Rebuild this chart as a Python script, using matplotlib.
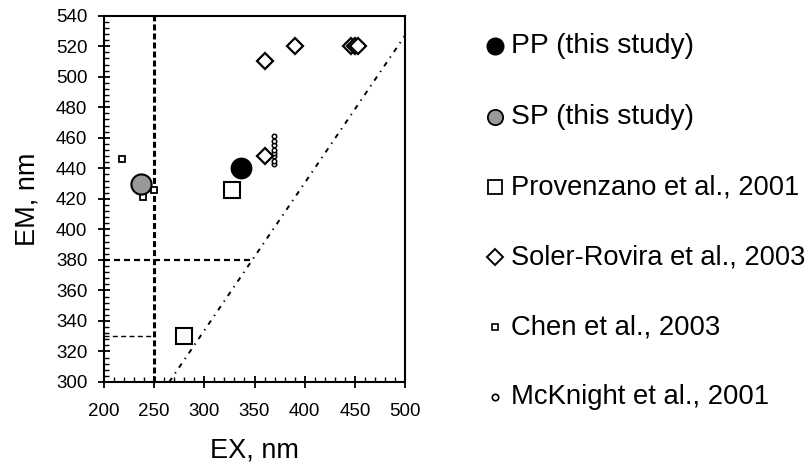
import matplotlib
matplotlib.use("Agg")
import matplotlib.pyplot as plt
from matplotlib.lines import Line2D
from matplotlib.ticker import MultipleLocator

plt.rcParams['font.family'] = ['Liberation Sans', 'DejaVu Sans']
plt.rcParams['lines.scale_dashes'] = False

# ---- data ----
pp_ex = [337]
pp_em = [440]
sp_ex = [237]
sp_em = [430]
prov_ex = [280, 328]
prov_em = [330, 426]
soler_ex = [360, 360, 390, 446, 450, 453]
soler_em = [510, 448, 520, 520, 520, 520]
chen_ex = [218, 239, 250]
chen_em = [446, 421, 426]
mck_ex = [369, 369, 369, 369, 369, 369, 369, 369]
mck_em = [443, 445, 448, 450, 452, 455, 458, 461]

vline_x = [250, 250]
vline_y = [300, 540]
h380_x = [200, 347]
h380_y = [380, 380]
h330_x = [200, 250]
h330_y = [330, 330]
diag_x = [265, 500]
diag_y = [300, 527]

labels = ["PP (this study)", "SP (this study)", "Provenzano et al., 2001",
          "Soler-Rovira et al., 2003", "Chen et al., 2003", "McKnight et al., 2001"]

W, H = 808, 466
fig = plt.figure(figsize=(W / 100, H / 100), dpi=100)
ax = fig.add_axes([104 / W, 1 - 382 / H, 301 / W, (382 - 15.7) / H])

# reference lines
ax.plot(vline_x, vline_y, color='black', lw=2.2, dashes=(4.3, 2.2), zorder=1)
ax.plot(h380_x, h380_y, color='black', lw=1.6, dashes=(4.3, 2.9), zorder=1)
ax.plot(h330_x, h330_y, color='black', lw=1.0, dashes=(3.6, 2.4), zorder=1)
ax.plot(diag_x, diag_y, color='black', lw=1.4, dashes=(3.5, 4.0, 1.0, 4.0), zorder=1)

# data markers
ax.plot(mck_ex, mck_em, 'o', ms=3.2, mfc='white', mec='black', mew=1.1, ls='none', zorder=3)
ax.plot(soler_ex, soler_em, 'D', ms=8.5, mfc='white', mec='black', mew=1.6, ls='none', zorder=3)
ax.plot(chen_ex, chen_em, 's', ms=5, mfc='white', mec='black', mew=1.3, ls='none', zorder=3)
ax.plot(prov_ex, prov_em, 's', ms=11.5, mfc='white', mec='black', mew=1.5, ls='none', zorder=3)
ax.plot(pp_ex, pp_em, 'o', ms=14.5, mfc='black', mec='black', mew=1.2, ls='none', zorder=4)
ax.plot(sp_ex, sp_em, 'o', ms=14.5, mfc='#999999', mec='black', mew=1.5, ls='none', zorder=4)

ax.set_xlim(200, 500)
ax.set_ylim(300, 540)
ax.xaxis.set_major_locator(MultipleLocator(50))
ax.xaxis.set_minor_locator(MultipleLocator(10))
ax.yaxis.set_major_locator(MultipleLocator(20))
ax.yaxis.set_minor_locator(MultipleLocator(4))
ax.tick_params(which='major', direction='inout', length=8, width=1.3,
               labelsize=13.5, colors='black')
ax.tick_params(axis='x', which='major', pad=11)
ax.tick_params(axis='y', which='major', pad=8)
ax.tick_params(which='minor', direction='in', length=3.6, width=1.0)
for s in ax.spines.values():
    s.set_linewidth(1.5)
ax.set_xlabel("EX, nm", fontsize=19.5, labelpad=13)
ax.set_ylabel("EM, nm", fontsize=19.5, labelpad=11)

# legend (manual placement)
leg_y = [46, 116.5, 187, 257, 327, 397]
leg_fs = [20.3, 20.3, 19.6, 19.6, 19.8, 19.8]
leg_styles = [
    dict(marker='o', ms=12, mfc='black', mec='black', mew=1.0),
    dict(marker='o', ms=11, mfc='#999999', mec='black', mew=1.3),
    dict(marker='s', ms=10.5, mfc='white', mec='black', mew=1.3),
    dict(marker='D', ms=7.8, mfc='white', mec='black', mew=1.4),
    dict(marker='s', ms=4.8, mfc='white', mec='black', mew=1.2),
    dict(marker='o', ms=4.6, mfc='white', mec='black', mew=1.2),
]
for yy, lab, st, fs in zip(leg_y, labels, leg_styles, leg_fs):
    fig.add_artist(Line2D([495 / W], [1 - yy / H], transform=fig.transFigure,
                          ls='none', **st))
    fig.text(511 / W, 1 - yy / H, lab, fontsize=fs, va='center', ha='left')

fig.savefig("out.png", dpi=100)
